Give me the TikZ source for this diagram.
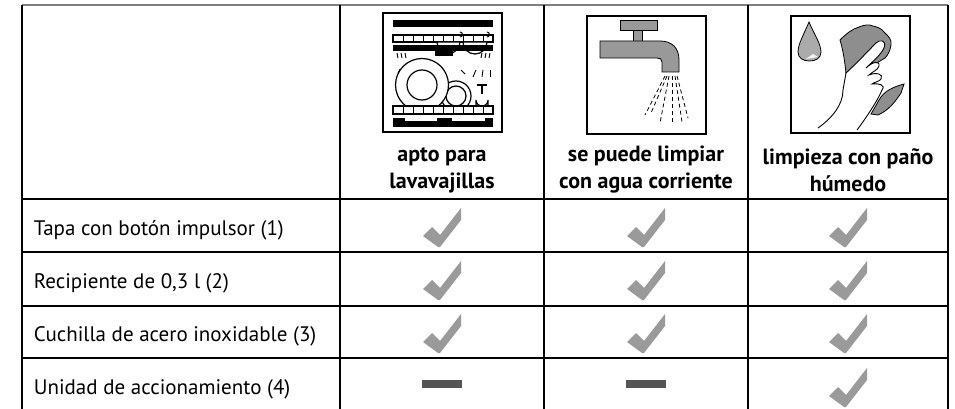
\documentclass[tikz,border=0pt]{standalone}
\usepackage{fontspec}
\setmainfont{PT Sans}
\usepackage{xcolor}
\definecolor{tickgray}{HTML}{9A9A9A}
\definecolor{dashgray}{HTML}{555555}
\definecolor{iconfill}{HTML}{999999}
\definecolor{clothgray}{HTML}{8E8E8E}
\definecolor{dropgray}{HTML}{ABABAB}
\definecolor{rulegray}{HTML}{7F7F7F}
\tikzset{
  okmark/.pic={\fill[tickgray] (-19,10) -- (-10,1) -- (-2,9) -- (19,-18) -- (19,-6) -- (-2,21) -- (-4,21) -- cycle;},
  nomark/.pic={\fill[dashgray] (-20,-4) rectangle (20,4);},
  rowtext/.style={anchor=base west,font=\fontsize{21}{24}\selectfont},
  headtext/.style={align=center,font=\bfseries\fontsize{22}{27}\selectfont}
}
\begin{document}
\begin{tikzpicture}[x=1pt,y=-1pt,line width=1.1pt]
\useasboundingbox (0,0) rectangle (955,409);
% table
\draw[rulegray] (22,5) -- (948,5);
\draw (22,5) -- (22,409);
\draw (340,5) -- (340,409);
\draw (544,5) -- (544,409);
\draw (748,5) -- (748,409);
\draw (948,5) -- (948,409);
\draw (22,199) -- (948,199);
\draw (22,252) -- (948,252);
\draw (22,306) -- (948,306);
\draw (22,358) -- (948,358);
% dishwasher
\draw[line width=2pt] (383,13) rectangle (502,132);
\fill (393,20) rectangle (493,27);
\draw[line width=1.2pt] (393,35) rectangle (493,42);
\foreach \x in {403,413,...,483} \draw[line width=1pt] (\x,35) -- (\x,42);
\draw[line width=1.2pt,fill=white] (437,42) arc (180:0:11.5) -- cycle;
\draw[line width=1.2pt,fill=white] (463,42) arc (180:0:12) -- cycle;
\draw[line width=1pt] (460,37) arc (90:-90:2.5);
\draw[line width=1pt] (487,37) arc (90:-90:2.5);
\fill (393,45) rectangle (493,51);
\fill (435,45) rectangle (453,56);
\foreach \x in {397,401,405} \draw[line width=0.9pt] (\x,53) -- (\x+1,58);
\foreach \x in {482,486,490} \draw[line width=0.9pt] (\x,53) -- (\x-1,58);
\foreach \a in {-40,-20,0,20,40} \draw[line width=0.9pt] (444,56) ++(-90+\a:3) -- ++(-90+\a:6);
\draw[line width=0.9pt] (461,70) -- (465,74);
\draw[line width=0.9pt] (473,77) -- (476,70);
\draw[line width=0.9pt] (482,77) -- (483,70);
\draw[line width=0.9pt] (490,77) -- (490,70);
\draw[line width=0.9pt] (398,73) -- (400,69);
\draw[line width=0.9pt] (408,70) -- (411,75);
\draw[line width=1.2pt,fill=white] (456,96) circle (15);
\draw[line width=1.2pt] (456,96) circle (10);
\draw[line width=1.2pt,fill=white] (422,85) circle (26.5);
\draw[line width=1.2pt] (422,85) circle (15);
\draw[line width=1.1pt] (477,85) -- (487,85);
\draw[line width=1.1pt] (482,85) -- (482,94);
\draw[line width=1.1pt] (476,107) -- (476,100) arc (180:0:6) -- (488,107);
\draw[line width=1.2pt,fill=white] (393,106) rectangle (493,114);
\foreach \x in {403,413,...,483} \draw[line width=1pt] (\x,106) -- (\x,114);
\fill (393,118) rectangle (493,127);
\fill[white] (405,118) rectangle (437,121);
\fill[white] (452,118) rectangle (485,121);
% tap
\draw[line width=2pt] (587,16) rectangle (706,134);
\draw[line width=0.8pt,fill=iconfill] (620,20) rectangle (657,30);
\draw[line width=0.8pt,fill=iconfill] (633,30) rectangle (642,42);
\draw[line width=0.8pt,fill=iconfill] (600,41) -- (660,41) .. controls (672,41) and (679,48) .. (679,60) -- (679,72) -- (662,72) -- (662,62) .. controls (662,59) and (660,58) .. (657,58) -- (600,58) -- cycle;
\foreach \sx/\ex/\ey in {665/645/115, 667/651/113, 669/660/123, 672/672/125, 675/682/122, 677/688/118}
  \draw[line width=0.8pt,dash pattern=on 4pt off 3pt] (\sx,76) -- (\ex,\ey);
% cloth
\draw[line width=2pt] (791,16) rectangle (910,133);
\draw[line width=0.8pt,fill=dropgray] (809,22) .. controls (804,34) and (798,44) .. (798,52) .. controls (798,58) and (803,61) .. (809.5,61) .. controls (816,61) and (821,58) .. (821,52) .. controls (821,44) and (814,34) .. (809,22) -- cycle;
\fill[white!85!dropgray] (806,59) -- (813,54) -- (818,57) -- cycle;
\draw[line width=0.8pt,fill=clothgray] (840,40) .. controls (846,34) and (852,29) .. (859,27) .. controls (864,25) and (869,24) .. (873,26) .. controls (878,27) and (882,29) .. (884,32) .. controls (888,36) and (892,39) .. (891,45) .. controls (890,51) and (888,55) .. (885,58) -- (862,72) -- (846,74) .. controls (845,62) and (843,50) .. (840,40) -- cycle;
\draw[line width=0.8pt,fill=clothgray] (871,114) -- (879,100) .. controls (884,91) and (893,87) .. (904,84) -- (901,93) .. controls (895,102) and (889,110) .. (878,115) -- cycle;
\draw[line width=0.9pt,fill=white] (818,128) .. controls (832,118) and (843,105) .. (843,90) -- (846,73) .. controls (858,62) and (870,49) .. (876,43) .. controls (880,39) and (887,40) .. (884,48) .. controls (880,56) and (872,62) .. (866,68) .. controls (872,62) and (880,60) .. (879,66) .. controls (878,70) and (872,72) .. (869,75) .. controls (876,72) and (884,74) .. (881,79) .. controls (879,82) and (874,82) .. (872,84) .. controls (879,83) and (886,85) .. (882,90) .. controls (878,100) and (866,118) .. (857,130);
% header texts
\draw (442,170) node[headtext] (dish) {apto para\\lavavajillas};
\draw (646,170) node[headtext] (water) {se puede limpiar\\con agua corriente};
\draw (848,170) node[headtext] (damp) {limpieza con paño\\húmedo};
% row texts
\draw (30,235) node[rowtext] (lid) {Tapa con botón impulsor (1)};
\draw (30,288) node[rowtext] (bowl) {Recipiente de 0,3 l (2)};
\draw (30,341) node[rowtext] (blade) {Cuchilla de acero inoxidable (3)};
\draw (30,394) node[rowtext] (motor) {Unidad de accionamiento (4)};
% marks
\foreach \y in {226,279,332} {
  \pic at (442,\y) {okmark};
  \pic at (646,\y) {okmark};
  \pic at (848,\y) {okmark};
}
\pic at (442,384) {nomark};
\pic at (646,384) {nomark};
\pic at (848,386) {okmark};
\end{tikzpicture}
\end{document}
